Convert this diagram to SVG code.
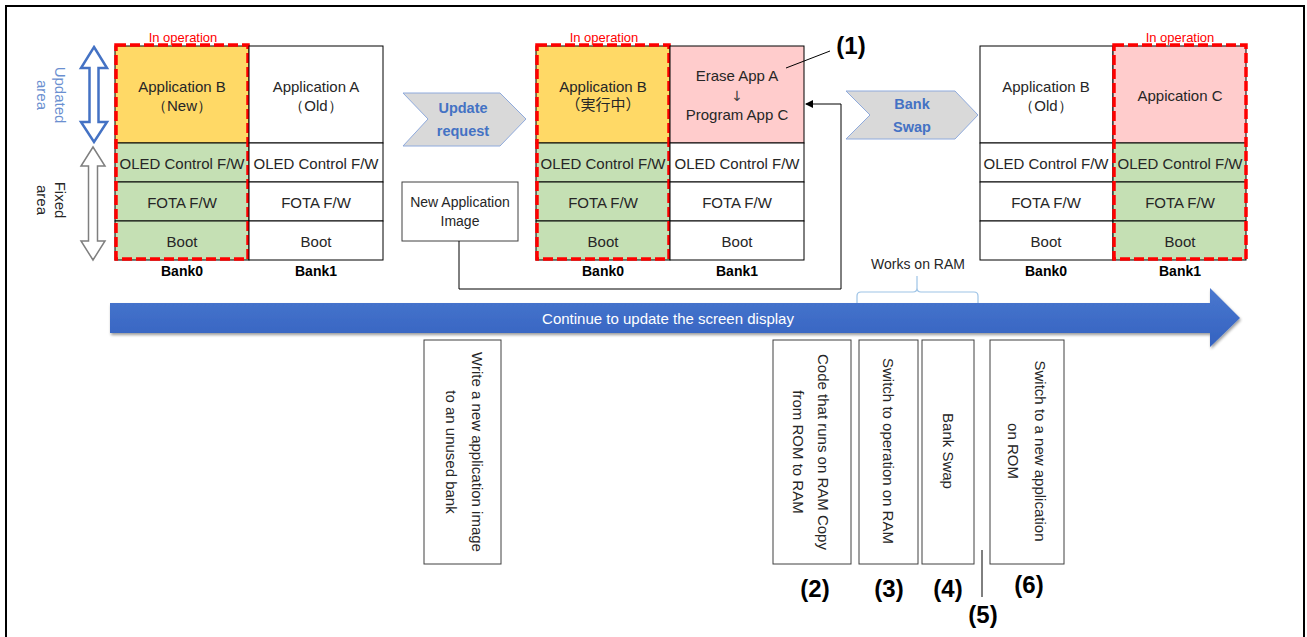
<svg xmlns="http://www.w3.org/2000/svg" width="1307" height="637" viewBox="0 0 1307 637">
<defs>
<style>
.t{font-family:"Liberation Sans",Arial,sans-serif;font-size:15px;fill:#262626;text-anchor:middle;dominant-baseline:central}
.bk{font-family:"Liberation Sans",Arial,sans-serif;font-size:14px;font-weight:bold;fill:#000;text-anchor:middle;dominant-baseline:central}
.op{font-family:"Liberation Sans",Arial,sans-serif;font-size:13px;fill:#ff0000;text-anchor:middle;dominant-baseline:central}
.num{font-family:"Liberation Sans",Arial,sans-serif;font-size:24px;font-weight:bold;fill:#000;text-anchor:middle;dominant-baseline:central}
.chv{font-family:"Liberation Sans",Arial,sans-serif;font-size:14.5px;font-weight:bold;fill:#4472c4;text-anchor:middle;dominant-baseline:central}
.cell{stroke:#000;stroke-width:1}
.w{fill:#fff}
.y{fill:#ffd966}
.g{fill:#c5e0b4}
.p{fill:#ffcccc}
.red{fill:none;stroke:#ff0000;stroke-width:3.5;stroke-dasharray:10 4}
.vbox{fill:#fff;stroke:#404040;stroke-width:1}
.chev{fill:#d9d9d9;stroke:#8faadc;stroke-width:1}
</style>
<linearGradient id="blue" x1="0" y1="0" x2="0" y2="1">
<stop offset="0" stop-color="#4a78cf"/>
<stop offset="1" stop-color="#3462c0"/>
</linearGradient>
<filter id="sh" x="-5%" y="-30%" width="110%" height="160%">
<feGaussianBlur in="SourceAlpha" stdDeviation="1.5"/>
<feOffset dx="1" dy="2" result="b"/>
<feComponentTransfer><feFuncA type="linear" slope="0.4"/></feComponentTransfer>
<feMerge><feMergeNode/><feMergeNode in="SourceGraphic"/></feMerge>
</filter>
<marker id="ah" markerWidth="8" markerHeight="8" refX="7" refY="4" orient="auto" markerUnits="userSpaceOnUse">
<path d="M0,0 L8,4 L0,8 Z" fill="#000"/>
</marker>
</defs>

<rect x="6" y="6" width="1298" height="650" fill="#fff" stroke="#000" stroke-width="2"/>

<!-- side labels -->
<g id="updated-area">
<path d="M94,47 L107,68 L98.5,68 L98.5,122 L107,122 L94,142 L81,122 L89.5,122 L89.5,68 L81,68 Z" fill="#fff" stroke="#4472c4" stroke-width="2.5" stroke-linejoin="miter"/>
<g transform="translate(51,95) rotate(90)">
<text class="t" x="0" y="-9" style="fill:#6a8fd0">Updated</text>
<text class="t" x="0" y="9" style="fill:#6a8fd0">area</text>
</g>
</g>
<g id="fixed-area">
<path d="M93,147 L105,166 L97.5,166 L97.5,241 L105,241 L93,260 L81,241 L88.5,241 L88.5,166 L81,166 Z" fill="#fff" stroke="#7f7f7f" stroke-width="1.5"/>
<g transform="translate(51,200) rotate(90)">
<text class="t" x="0" y="-9">Fixed</text>
<text class="t" x="0" y="9">area</text>
</g>
</g>

<!-- Stage 1 -->
<g id="stage1-bank0">
<rect class="cell y" x="115" y="46" width="134" height="97"/>
<rect class="cell g" x="115" y="143" width="134" height="39"/>
<rect class="cell g" x="115" y="182" width="134" height="39"/>
<rect class="cell g" x="115" y="221" width="134" height="39"/>
<text class="t" x="182" y="86">Application B</text>
<text class="t" x="182" y="105">（New）</text>
<text class="t" x="182" y="163">OLED Control F/W</text>
<text class="t" x="182" y="202">FOTA F/W</text>
<text class="t" x="182" y="241">Boot</text>
<text class="bk" x="182" y="271">Bank0</text>
<rect class="red" x="116" y="45" width="132" height="214"/>
<text class="op" x="183" y="37">In operation</text>
</g>
<g id="stage1-bank1">
<rect class="cell w" x="249" y="46" width="134" height="97"/>
<rect class="cell w" x="249" y="143" width="134" height="39"/>
<rect class="cell w" x="249" y="182" width="134" height="39"/>
<rect class="cell w" x="249" y="221" width="134" height="39"/>
<text class="t" x="316" y="86">Application A</text>
<text class="t" x="316" y="105">（Old）</text>
<text class="t" x="316" y="163">OLED Control F/W</text>
<text class="t" x="316" y="202">FOTA F/W</text>
<text class="t" x="316" y="241">Boot</text>
<text class="bk" x="316" y="271">Bank1</text>
</g>

<g id="update-request">
<path class="chev" d="M403,93 L500,93 L526,119 L500,146 L403,146 L428,119 Z"/>
<text class="chv" x="463" y="108">Update</text>
<text class="chv" x="463" y="131">request</text>
</g>

<g id="new-app-image">
<rect class="vbox" x="402" y="182" width="116" height="59"/>
<text class="t" x="460" y="202" style="font-size:14px">New Application</text>
<text class="t" x="460" y="221" style="font-size:14px">Image</text>
</g>

<!-- Stage 2 -->
<g id="stage2-bank0">
<rect class="cell y" x="536" y="46" width="134" height="97"/>
<rect class="cell g" x="536" y="143" width="134" height="39"/>
<rect class="cell g" x="536" y="182" width="134" height="39"/>
<rect class="cell g" x="536" y="221" width="134" height="39"/>
<text class="t" x="603" y="86">Application B</text>
<text class="t" x="603" y="104" style="font-family:'Liberation Sans','Noto Sans CJK JP',sans-serif">（実行中）</text>
<text class="t" x="603" y="163">OLED Control F/W</text>
<text class="t" x="603" y="202">FOTA F/W</text>
<text class="t" x="603" y="241">Boot</text>
<text class="bk" x="603" y="271">Bank0</text>
<rect class="red" x="537" y="45" width="132" height="214"/>
<text class="op" x="604" y="37">In operation</text>
</g>
<g id="stage2-bank1">
<rect class="cell p" x="670" y="46" width="134" height="97"/>
<rect class="cell w" x="670" y="143" width="134" height="39"/>
<rect class="cell w" x="670" y="182" width="134" height="39"/>
<rect class="cell w" x="670" y="221" width="134" height="39"/>
<text class="t" x="737" y="75">Erase App A</text>
<text class="t" x="737" y="96" style="font-family:'DejaVu Sans',sans-serif;font-size:14px;fill:#404040">↓</text>
<text class="t" x="737" y="114">Program App C</text>
<text class="t" x="737" y="163">OLED Control F/W</text>
<text class="t" x="737" y="202">FOTA F/W</text>
<text class="t" x="737" y="241">Boot</text>
<text class="bk" x="737" y="271">Bank1</text>
</g>

<g id="label-1">
<text class="num" x="851" y="45">(1)</text>
</g>

<g id="bank-swap">
<path class="chev" d="M846,91 L955,91 L978,115 L955,139 L846,139 L870,115 Z"/>
<text class="chv" x="912" y="104">Bank</text>
<text class="chv" x="912" y="127">Swap</text>
</g>

<!-- Stage 3 -->
<g id="stage3-bank0">
<rect class="cell w" x="980" y="46" width="133" height="97"/>
<rect class="cell w" x="980" y="143" width="133" height="39"/>
<rect class="cell w" x="980" y="182" width="133" height="39"/>
<rect class="cell w" x="980" y="221" width="133" height="39"/>
<text class="t" x="1046" y="86">Application B</text>
<text class="t" x="1046" y="105">（Old）</text>
<text class="t" x="1046" y="163">OLED Control F/W</text>
<text class="t" x="1046" y="202">FOTA F/W</text>
<text class="t" x="1046" y="241">Boot</text>
<text class="bk" x="1046" y="271">Bank0</text>
</g>
<g id="stage3-bank1">
<rect class="cell p" x="1113" y="46" width="133" height="97"/>
<rect class="cell g" x="1113" y="143" width="133" height="39"/>
<rect class="cell g" x="1113" y="182" width="133" height="39"/>
<rect class="cell g" x="1113" y="221" width="133" height="39"/>
<text class="t" x="1180" y="95">Appication C</text>
<text class="t" x="1180" y="163">OLED Control F/W</text>
<text class="t" x="1180" y="202">FOTA F/W</text>
<text class="t" x="1180" y="241">Boot</text>
<text class="bk" x="1180" y="271">Bank1</text>
<rect class="red" x="1114" y="45" width="132" height="214"/>
<text class="op" x="1180" y="37">In operation</text>
</g>

<!-- works on RAM -->
<g id="works-on-ram">
<text class="t" x="918" y="264" style="font-size:14px">Works on RAM</text>
<path d="M857,303 L857,296 Q857,292 861,292 L913,292 Q917,292 917,288 L917,276 M917,288 Q917,292 921,292 L974,292 Q978,292 978,296 L978,303" fill="none" stroke="#9dc3e6" stroke-width="1.2"/>
</g>

<!-- timeline arrow -->
<g id="timeline">
<path d="M110,303 L1210,303 L1210,288 L1240,318 L1210,347 L1210,333 L110,333 Z" fill="url(#blue)" filter="url(#sh)"/>
<text class="t" x="668" y="318" style="fill:#fff;font-size:15px">Continue to update the screen display</text>
</g>

<!-- vertical step boxes -->
<g id="step-write">
<rect class="vbox" x="424" y="340" width="77" height="224"/>
<g transform="translate(464,452) rotate(90)">
<text class="t" x="0" y="-13">Write a new application image</text>
<text class="t" x="0" y="13">to an unused bank</text>
</g>
</g>
<g id="step-2">
<rect class="vbox" x="773" y="340" width="78" height="224"/>
<g transform="translate(810.5,452) rotate(90)">
<text class="t" x="0" y="-12.5">Code that runs on RAM Copy</text>
<text class="t" x="0" y="12.5">from ROM to RAM</text>
</g>
<text class="num" x="815" y="588">(2)</text>
</g>
<g id="step-3">
<rect class="vbox" x="859" y="340" width="59" height="224"/>
<g transform="translate(888.5,451) rotate(90)">
<text class="t" x="0" y="0">Switch to operation on RAM</text>
</g>
<text class="num" x="889" y="588">(3)</text>
</g>
<g id="step-4">
<rect class="vbox" x="922" y="340" width="52" height="224"/>
<g transform="translate(948,451) rotate(90)">
<text class="t" x="0" y="0">Bank Swap</text>
</g>
<text class="num" x="948" y="588">(4)</text>
</g>
<g id="step-6">
<rect class="vbox" x="990" y="340" width="74" height="224"/>
<g transform="translate(1026.5,451) rotate(90)">
<text class="t" x="0" y="-13.5">Switch to a new application</text>
<text class="t" x="0" y="13.5">on ROM</text>
</g>
<text class="num" x="1029" y="584">(6)</text>
</g>
<g id="step-5">
<text class="num" x="983" y="614">(5)</text>
</g>

<!-- connectors -->
<g id="connectors" fill="none" stroke="#000" stroke-width="1">
<path d="M459,241 L459,289 L841,289 L841,104 L806,104" marker-end="url(#ah)"/>
<line x1="830" y1="51" x2="786" y2="68"/>
<line x1="982" y1="550" x2="982" y2="597"/>
</g>
</svg>
